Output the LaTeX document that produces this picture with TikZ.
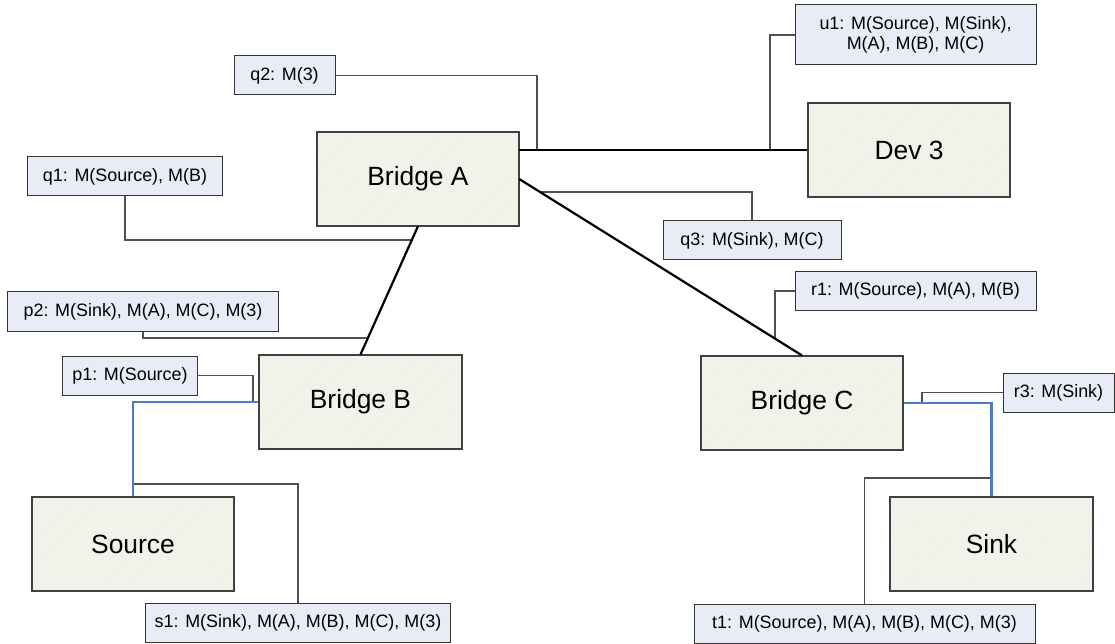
\documentclass[tikz,border=0pt]{standalone}
\usepackage{fontspec}
\setmainfont{Liberation Sans}
\usetikzlibrary{patterns.meta}
\definecolor{boxfill}{HTML}{F3F5EC}
\definecolor{boxhatch}{HTML}{EAEDE0}
\definecolor{lblfill}{HTML}{E7ECF6}
\definecolor{bluelink}{HTML}{4A7CC9}
\definecolor{calline}{HTML}{505050}
\tikzset{
  devbox/.style={draw=black!75, line width=1.1bp,
    preaction={fill=boxfill},
    pattern={Lines[angle=45,distance=2.4bp,line width=0.4bp]}, pattern color=boxhatch,
    minimum width=202bp, minimum height=94bp, inner sep=0pt,
    font=\fontsize{26.5}{30}\selectfont},
  lbl/.style={draw=black!80, line width=1bp, fill=lblfill,
    minimum height=39bp, inner sep=0pt, align=center,
    font=\fontsize{18}{20.5}\selectfont},
  trunk/.style={line width=2.2bp, black},
  access/.style={line width=2.2bp, bluelink},
  callout/.style={line width=1.1bp, calline},
}
\begin{document}
\begin{tikzpicture}[x=1bp,y=-1bp]
\useasboundingbox (0,0) rectangle (1115,644);

% devices
\node[devbox] (bA)  at (418,179)   {Bridge A};
\node[devbox] (d3)  at (909,150)   {Dev 3};
\node[devbox, minimum width=203bp] (bB)  at (360.5,402)   {Bridge B};
\node[devbox] (bC)  at (802,403)   {Bridge C};
\node[devbox] (src) at (133,544)   {Source};
\node[devbox, minimum width=203bp] (snk) at (991.5,544) {Sink};

% labels
\node[lbl, minimum width=101bp] (q2) at (284.5,75.5) {q2: M(3)};
\node[lbl, minimum width=194bp] (q1) at (125,176.5) {q1: M(Source), M(B)};
\node[lbl, minimum width=241bp, minimum height=60bp] (u1) at (915.5,35) {u1: M(Source), M(Sink),\\M(A), M(B), M(C)};
\node[lbl, minimum width=178bp] (q3) at (752,240.5) {q3: M(Sink), M(C)};
\node[lbl, minimum width=270bp] (p2) at (143,311.5) {p2: M(Sink), M(A), M(C), M(3)};
\node[lbl, minimum width=134bp] (p1) at (130,375.5) {p1: M(Source)};
\node[lbl, minimum width=241bp] (r1) at (915.5,291) {r1: M(Source), M(A), M(B)};
\node[lbl, minimum width=111bp] (r3) at (1058.5,392.5) {r3: M(Sink)};
\node[lbl, minimum width=304bp] (s1) at (298,622.5) {s1: M(Sink), M(A), M(B), M(C), M(3)};
\node[lbl, minimum width=341bp] (t1) at (864.5,623.5) {t1: M(Source), M(A), M(B), M(C), M(3)};

% junction points on links
\coordinate (jq2) at (537,150);
\coordinate (ju1) at (770,150);
\coordinate (jq3) at (540,192);
\coordinate (jq1) at (411.7,240);
\coordinate (jp2) at (368,338);
\coordinate (jp1) at (253,402);
\coordinate (js1) at (133,484);
\coordinate (jt1) at (991.5,478);
\coordinate (jr1) at (775,339);
\coordinate (jr3) at (922,403);

% callouts
\draw[callout] (q2.east) -| (jq2);
\draw[callout] (u1.west) -| (ju1);
\draw[callout] (q3.north) |- (jq3);
\draw[callout] (q1.south) |- (jq1);
\draw[callout] (p2.south) |- (jp2);
\draw[callout] (p1.east) -| (jp1);
\draw[callout] (s1.north) |- (js1);
\draw[callout] (t1.north) |- (jt1);
\draw[callout] (r1.west) -| (jr1);
\draw[callout] (r3.west) -| (jr3);

% links
\draw[trunk] (d3.west) -- (d3.west -| bA.east);
\draw[trunk] (bA.east) -- (bC.north);
\draw[trunk] (bA.south) -- (bB.north);
\draw[access] (bB.west) -| (src.north);
\draw[access] (bC.east) -| (snk.north);
\end{tikzpicture}
\end{document}
